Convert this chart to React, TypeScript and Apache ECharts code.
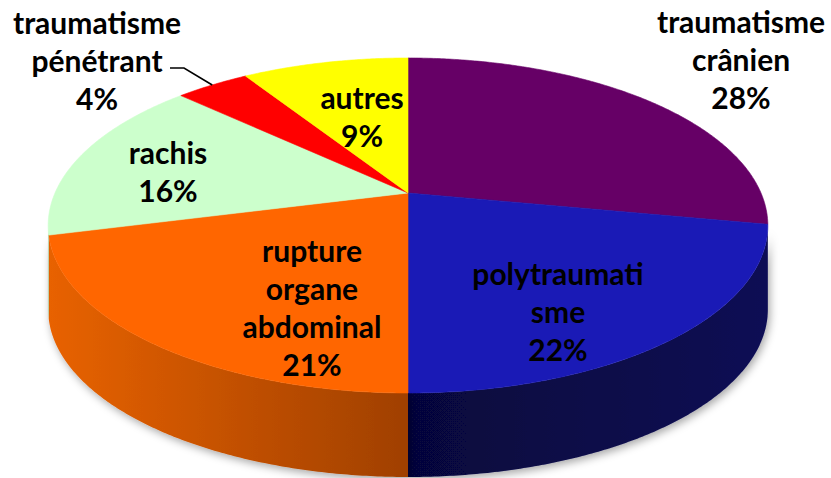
import { useEffect, useRef } from "react";
import * as echarts from "echarts";

// ---- data ----
const CATEGORIES = [
  "traumatisme\ncrânien",
  "polytraumati\nsme",
  "rupture\norgane\nabdominal",
  "rachis",
  "traumatisme\npénétrant",
  "autres",
];
const VALUES = [28, 22, 21, 16, 4, 9];

// ---- style ----
const TOP_COLORS = ["#660066", "#1A1AB6", "#FF6600", "#CCFFCC", "#FF0000", "#FFFF00"];
const WALL_COLORS = [
  ["#3a003a", "#4a004a"],
  ["#06063c", "#0c0c54"],
  ["#e86200", "#a04000"],
  ["#a6d6a6", "#a6d6a6"],
  ["#b00000", "#b00000"],
  ["#c4c400", "#c4c400"],
];
// label block centres (pixels)
const LABEL_POS = [
  [741, 59],
  [558, 311],
  [312, 307],
  [168, 171],
  [97, 60],
  [362, 116],
];

// pie geometry (perspective disc)
const CX = 408;
const CY = 193;
const RA = 353;
const RB = 161.2;
const K = 0.194;
const H = 84;

const TOTAL = VALUES.reduce((s, v) => s + v, 0);

function proj(deg: number, r: number): [number, number] {
  const t = (deg * Math.PI) / 180;
  const X = r * Math.sin(t);
  const Z = r * Math.cos(t);
  const w = 1 + K * Z;
  return [CX + (RA * X) / w, CY - (RB * Z) / w];
}

const VIS0 = (Math.acos(-K) * 180) / Math.PI;
const VIS1 = 360 - VIS0;

function rim(a0: number, a1: number): [number, number][] {
  const pts: [number, number][] = [];
  const n = Math.max(2, Math.ceil((a1 - a0) / 0.5));
  for (let s = 0; s <= n; s++) pts.push(proj(a0 + ((a1 - a0) * s) / n, 1));
  return pts;
}

export default function App() {
  const ref = useRef<HTMLDivElement>(null);
  useEffect(() => {
    if (!ref.current) return;
    const chart = echarts.init(ref.current, null, { renderer: "svg" });
    const option = {
      animation: false,
      backgroundColor: "#ffffff",
      series: [
        {
          type: "custom",
          coordinateSystem: "none",
          data: VALUES.map((v, i) => ({ name: CATEGORIES[i], value: [v] })),
          renderItem: (params: any, api: any) => {
            const i = params.dataIndex;
            const v = api.value(0) as number;
            let start = 0;
            for (let j = 0; j < i; j++) start += VALUES[j];
            const a0 = (start / TOTAL) * 360;
            const a1 = ((start + v) / TOTAL) * 360;
            const children: any[] = [];
            const lo = Math.max(a0, VIS0);
            const hi = Math.min(a1, VIS1);
            if (hi - lo > 0.05) {
              const top = rim(lo, hi);
              const bot = top.map((p) => [p[0], p[1] + H] as [number, number]).reverse();
              children.push({
                type: "polygon",
                shape: { points: top.concat(bot) },
                style: {
                  fill: new echarts.graphic.LinearGradient(0, 0, 1, 0, [
                    { offset: 0, color: WALL_COLORS[i][0] },
                    { offset: 1, color: WALL_COLORS[i][1] },
                  ]),
                  shadowBlur: 8,
                  shadowColor: "rgba(0,0,0,0.35)",
                  shadowOffsetX: 2,
                  shadowOffsetY: 3,
                },
              });
            }
            const face: [number, number][] = [[CX, CY], ...rim(a0, a1)];
            children.push({
              type: "polygon",
              shape: { points: face },
              style: { fill: TOP_COLORS[i], stroke: TOP_COLORS[i], lineWidth: 0.6 },
            });
            return { type: "group", children };
          },
          z: 1,
        },
      ],
      graphic: [] as any[],
    };
    // labels
    CATEGORIES.forEach((c, i) => {
      option.graphic.push({
        type: "text",
        x: LABEL_POS[i][0],
        y: LABEL_POS[i][1],
        z: 10,
        style: {
          text: `${c}\n${VALUES[i]}%`,
          fill: "#000000",
          font: "bold 30px Lato",
          lineHeight: 38,
          align: "center",
          verticalAlign: "middle",
        },
      });
    });
    // leader line for the small slice
    {
      let start = 0;
      for (let j = 0; j < 4; j++) start += VALUES[j];
      const mid = ((start + VALUES[4] / 2) / TOTAL) * 360;
      const end = proj(mid, 1);
      option.graphic.push({
        type: "polyline",
        z: 10,
        shape: { points: [[170, 68], [184, 68], end] },
        style: { stroke: "#000000", lineWidth: 1.6, fill: null },
      });
    }
    chart.setOption(option as any);
    return () => chart.dispose();
  }, []);
  return (
    <div
      ref={ref}
      style={{ position: "fixed", left: 0, top: 0, width: 831, height: 478 }}
    />
  );
}
